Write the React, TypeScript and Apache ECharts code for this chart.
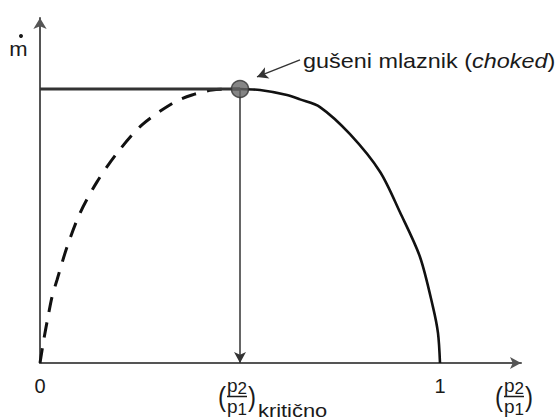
import React, { useEffect, useRef } from "react";
import * as echarts from "echarts";

// ---- data (axis units: x = p2/p1, y = mass flow relative to choked flow) ----
const criticalRatio = 0.5;
const chokedFlow = 1;
const plateau: number[][] = [
  [0, 1],
  [0.5, 1],
];
const solidBranch: number[][] = [
  [0.5, 1],
  [0.55, 0.996],
  [0.6175, 0.978],
  [0.65, 0.962],
  [0.7, 0.934],
  [0.775, 0.835],
  [0.85, 0.698],
  [0.9, 0.55],
  [0.95, 0.387],
  [0.9825, 0.204],
  [0.995, 0.109],
  [1, 0],
];
const dashedBranch: number[][] = [
  [0, 0],
  [0.01, 0.09],
  [0.02, 0.168],
  [0.03, 0.241],
  [0.0425, 0.303],
  [0.0675, 0.423],
  [0.1, 0.547],
  [0.1425, 0.661],
  [0.1925, 0.766],
  [0.255, 0.869],
  [0.3325, 0.949],
  [0.38, 0.978],
  [0.43, 0.996],
  [0.5, 1],
];
const annotationArrow: number[][] = [
  [0.65, 1.106],
  [0.5425, 1.044],
];
const xTickValues = [0, 1];
const xTickLabels = ["0", "1"];
const xMax = 1.2025;
const yMax = 1.259;
const yAxisLabel = "m";
const annotationText = "gušeni mlaznik (";
const annotationItalic = "choked";
const criticalSuffix = "kritično";
const numeratorIndex = "2";
const denominatorIndex = "1";

const FONT = "'Liberation Sans', Arial, Helvetica, sans-serif";
const INK = "#1a1a1a";

function fraction(cx: number, cy: number): any[] {
  const paren = (text: string, x: number) => ({
    type: "text",
    x,
    y: cy,
    scaleY: 1.15,
    silent: true,
    style: { text, fontSize: 24, fontFamily: FONT, fill: INK, align: "center", verticalAlign: "middle" },
  });
  const pIdx = (idx: string, y: number) => ({
    type: "text",
    x: cx,
    y,
    silent: true,
    style: {
      text: "{p|p}{d|" + idx + "}",
      fontSize: 19,
      fontFamily: FONT,
      fill: INK,
      align: "center",
      verticalAlign: "middle",
      rich: {
        p: { fontSize: 19, fontFamily: FONT, fill: INK },
        d: { fontSize: 17, fontFamily: FONT, fill: INK, padding: [6, 0, 0, 0] },
      },
    },
  });
  return [
    paren("(", cx - 15),
    pIdx(numeratorIndex, cy - 11),
    {
      type: "line",
      silent: true,
      shape: { x1: cx - 10, y1: cy, x2: cx + 10, y2: cy },
      style: { stroke: INK, lineWidth: 1.5 },
    },
    pIdx(denominatorIndex, cy + 9.5),
    paren(")", cx + 15),
  ];
}

export default function App() {
  const ref = useRef<HTMLDivElement>(null);

  useEffect(() => {
    if (!ref.current) return;
    const chart = echarts.init(ref.current, undefined, { renderer: "svg" });
    const axisColor = "#555";

    const option: any = {
      animation: false,
      backgroundColor: "#ffffff",
      grid: { left: 40, right: 39, top: 18, bottom: 57, containLabel: false, outerBoundsMode: "none" },
      xAxis: {
        type: "value",
        min: 0,
        max: xMax,
        splitLine: { show: false },
        axisTick: { show: false },
        axisLine: {
          show: true,
          onZero: false,
          symbol: ["none", "arrow"],
          symbolSize: [9, 11],
          lineStyle: { color: axisColor, width: 2 },
        },
        axisLabel: {
          show: true,
          customValues: xTickValues,
          formatter: (v: number) => xTickLabels[xTickValues.indexOf(v)] ?? "",
          fontSize: 20,
          fontFamily: FONT,
          color: INK,
          margin: 13,
        },
      },
      yAxis: {
        type: "value",
        min: 0,
        max: yMax,
        splitLine: { show: false },
        axisTick: { show: false },
        axisLabel: { show: false },
        axisLine: {
          show: true,
          onZero: false,
          symbol: ["none", "arrow"],
          symbolSize: [10, 11],
          lineStyle: { color: axisColor, width: 2 },
        },
      },
      series: [
        {
          type: "line",
          data: dashedBranch,
          smooth: 0.3,
          showSymbol: false,
          silent: true,
          lineStyle: { color: "#111", width: 3, type: [15, 11] },
          z: 2,
        },
        {
          type: "line",
          data: plateau,
          showSymbol: false,
          silent: true,
          lineStyle: { color: "#333", width: 3 },
          z: 3,
          markLine: {
            silent: true,
            symbol: ["none", "arrow"],
            symbolSize: [9, 11],
            label: { show: false },
            lineStyle: { color: "#333", width: 1.5, type: "solid" },
            data: [
              [{ coord: [criticalRatio, chokedFlow] }, { coord: [criticalRatio, 0] }],
              [{ coord: annotationArrow[0] }, { coord: annotationArrow[1] }],
            ],
          },
        },
        {
          type: "line",
          data: solidBranch,
          smooth: 0.3,
          showSymbol: false,
          silent: true,
          lineStyle: { color: "#111", width: 2.6 },
          z: 3,
        },
        {
          type: "scatter",
          data: [[criticalRatio, chokedFlow]],
          symbol: "circle",
          symbolSize: 17,
          silent: true,
          itemStyle: { color: "#666666", borderColor: "#333", borderWidth: 1.5 },
          z: 5,
        },
      ],
      graphic: [
        {
          type: "text",
          x: 18.5,
          y: 49,
          scaleX: 1.1,
          silent: true,
          style: { text: yAxisLabel, fontSize: 20, fontFamily: FONT, fill: INK, align: "center", verticalAlign: "middle" },
        },
        { type: "circle", silent: true, shape: { cx: 21, cy: 36, r: 2 }, style: { fill: INK } },
        {
          type: "text",
          x: 303,
          y: 61,
          scaleX: 1.17,
          silent: true,
          style: {
            text: annotationText + "{i|" + annotationItalic + "})",
            fontSize: 20,
            fontFamily: FONT,
            fill: INK,
            align: "left",
            verticalAlign: "middle",
            rich: { i: { fontStyle: "italic", fontSize: 20, fontFamily: FONT, fill: INK } },
          },
        },
        ...fraction(237, 396.5),
        {
          type: "text",
          x: 258,
          y: 410,
          scaleX: 1.15,
          silent: true,
          style: { text: criticalSuffix, fontSize: 19, fontFamily: FONT, fill: INK, align: "left", verticalAlign: "middle" },
        },
        ...fraction(514, 396.5),
      ],
    };

    chart.setOption(option);
    return () => chart.dispose();
  }, []);

  return (
    <div
      ref={ref}
      style={{ position: "fixed", left: 0, top: 0, width: 560, height: 420, background: "#fff" }}
    />
  );
}
